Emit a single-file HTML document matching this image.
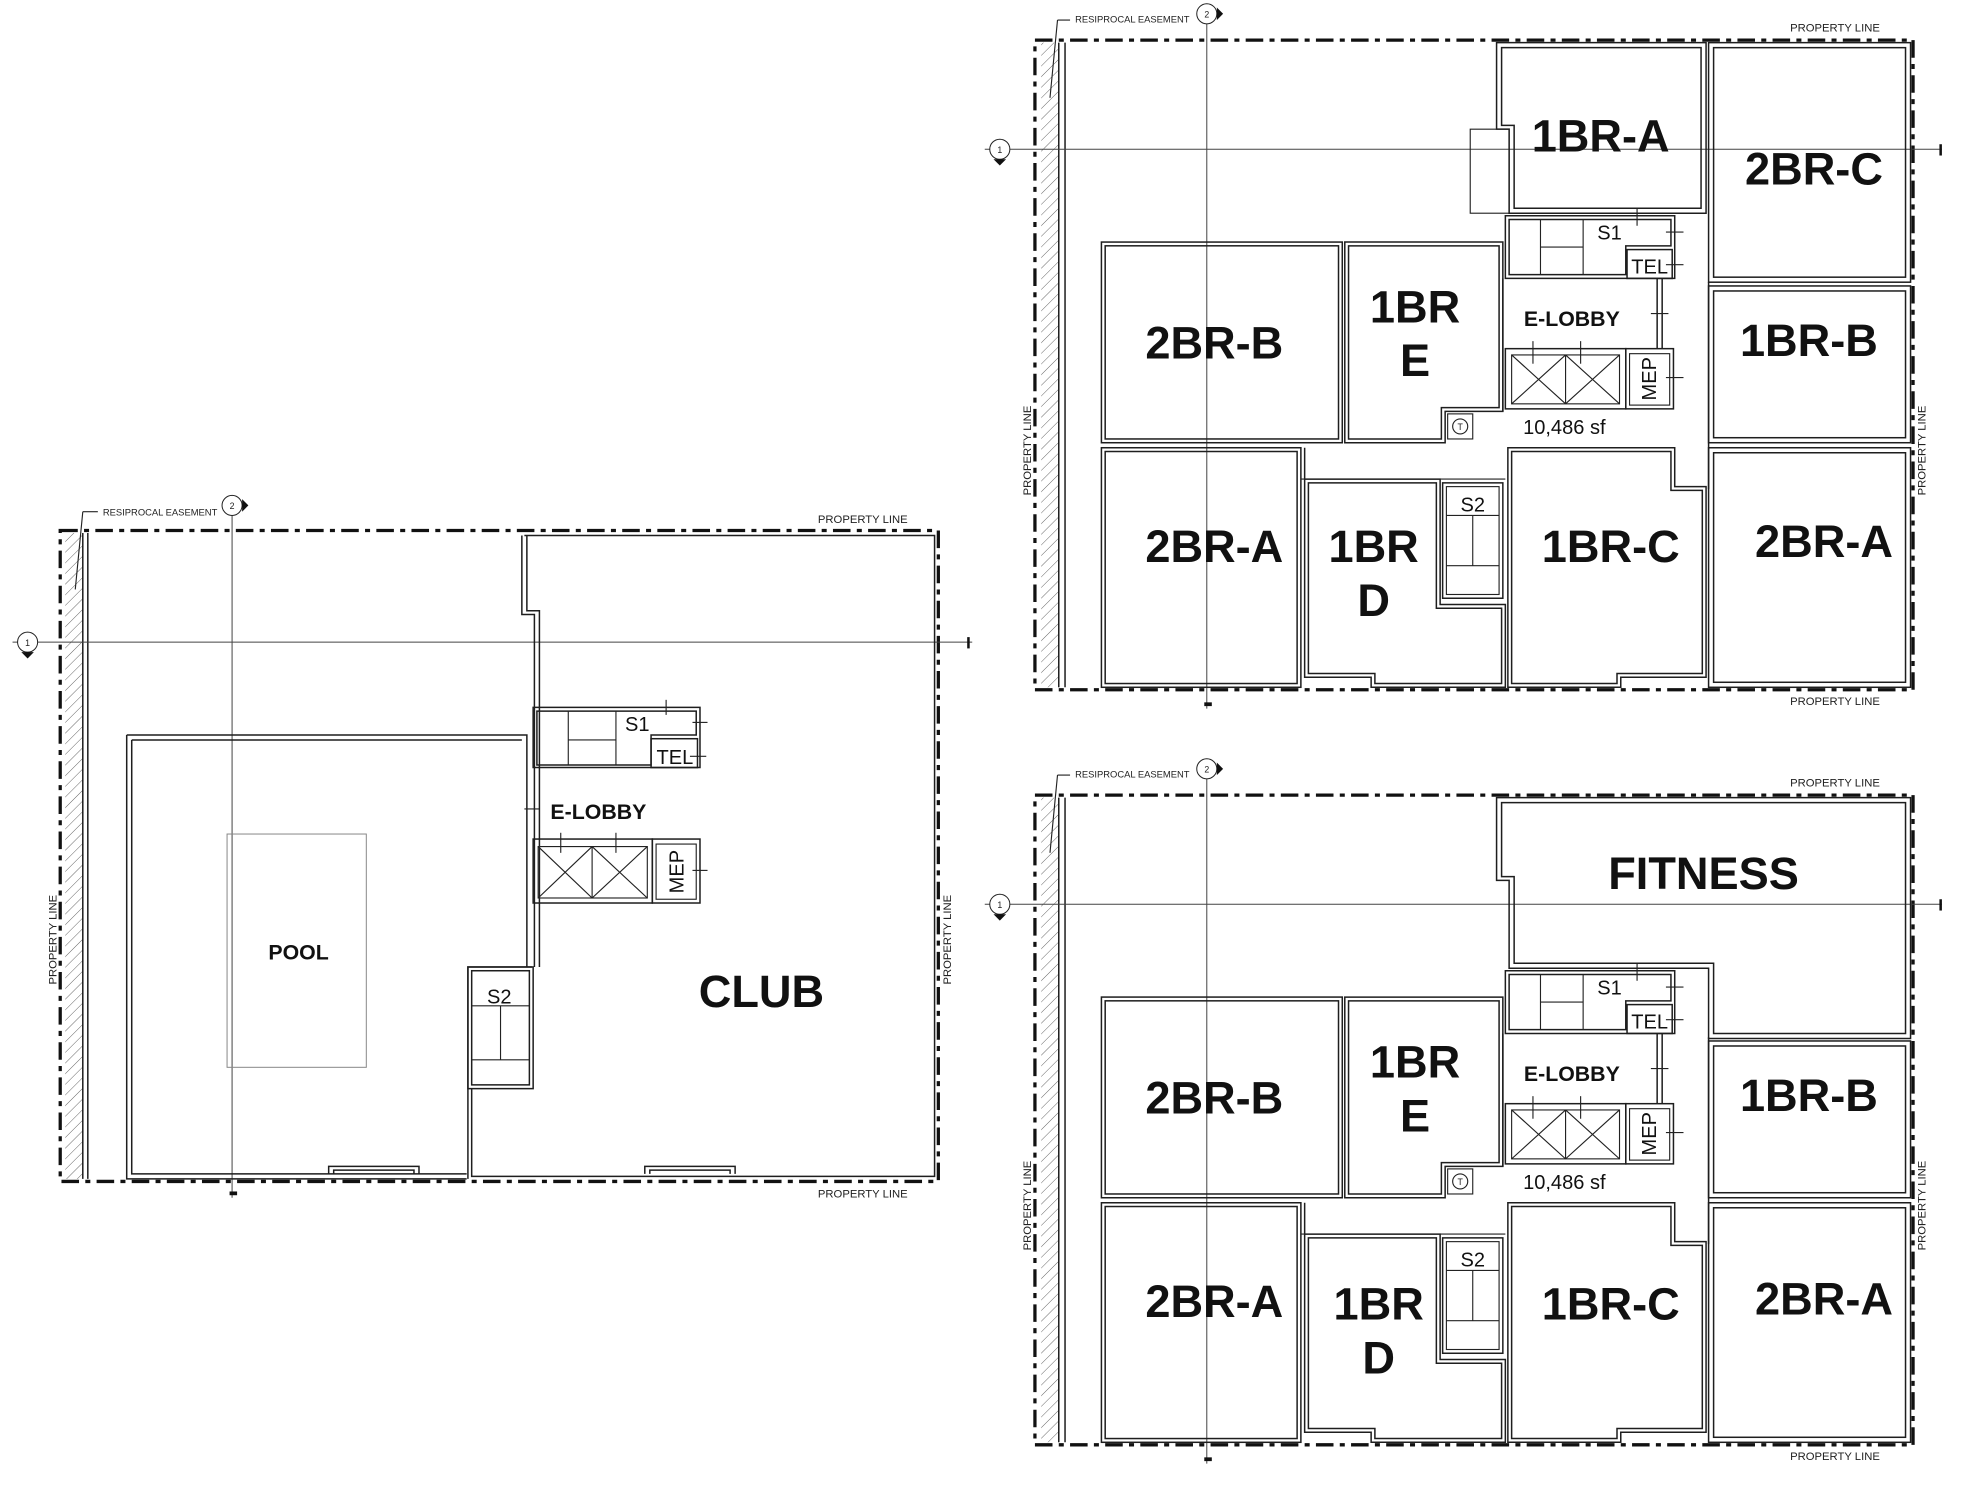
<!DOCTYPE html>
<html><head><meta charset="utf-8">
<style>
html,body{margin:0;padding:0;background:#fff;}
svg{display:block;}
.w{fill:none;stroke:#1e1e1e;stroke-width:1.2;}
.t{fill:none;stroke:#222;stroke-width:0.9;}
.g{fill:none;stroke:#444;stroke-width:0.8;}
.pl{fill:none;stroke:#111;stroke-width:2.6;stroke-dasharray:14 5 4 5;}
.big{font-family:"Liberation Sans",sans-serif;font-weight:bold;font-size:36px;fill:#111;text-anchor:middle;}
.med{font-family:"Liberation Sans",sans-serif;font-weight:bold;font-size:17px;fill:#111;text-anchor:middle;}
.sm{font-family:"Liberation Sans",sans-serif;font-size:16px;fill:#111;text-anchor:middle;}
.tiny{font-family:"Liberation Sans",sans-serif;font-size:9px;fill:#222;}
.bub{font-family:"Liberation Sans",sans-serif;font-size:7px;fill:#222;text-anchor:middle;}
</style></head><body>
<svg width="1967" height="1500" viewBox="0 0 1568 1196" preserveAspectRatio="none" xmlns="http://www.w3.org/2000/svg">
<defs>
<pattern id="h" width="6" height="6" patternUnits="userSpaceOnUse" patternTransform="rotate(45)">
<line x1="0" y1="0" x2="0" y2="6" stroke="#555" stroke-width="0.7"/>
</pattern>
</defs>
<rect width="1568" height="1196" fill="#fff"/>

<!-- ================= LEFT PLAN ================= -->
<g>
<rect x="52" y="425" width="14" height="515" fill="url(#h)"/>
<rect x="48" y="423" width="700" height="519" class="pl"/>
<line x1="66" y1="425" x2="66" y2="940" class="w"/>
<line x1="70" y1="425" x2="70" y2="940" class="w"/>
<line x1="185" y1="395" x2="185" y2="955" class="g"/>
<line x1="10" y1="512" x2="775" y2="512" class="g"/>
<rect x="183" y="950" width="6" height="3" fill="#111"/>
<rect x="771" y="508" width="2" height="9" fill="#111"/>
<circle cx="185" cy="403" r="8" fill="#fff" stroke="#222" stroke-width="0.8"/><path d="M193 398 L198 403 L193 408Z" fill="#111"/><text x="185" y="406" class="bub">2</text>
<circle cx="22" cy="512" r="8" fill="#fff" stroke="#222" stroke-width="0.8"/><path d="M17 520 L22 525 L27 520Z" fill="#111"/><text x="22" y="515" class="bub">1</text>
<path d="M66 408 H78" class="t"/><path d="M66 408 L60 470" class="t"/>
<text x="82" y="411" class="tiny" style="font-size:7.5px">RESIPROCAL  EASEMENT</text>
<text x="652" y="417" class="tiny">PROPERTY LINE</text>
<text x="652" y="955" class="tiny">PROPERTY LINE</text>
<text class="tiny" transform="translate(45,785) rotate(-90)">PROPERTY LINE</text>
<text class="tiny" transform="translate(758,785) rotate(-90)">PROPERTY LINE</text>
<path d="M416 427 V490 H426 V771" class="w"/><path d="M420 427 V487 H430 V771" class="w"/>
<path d="M418 427 H745 V938 H376 V868" class="w"/>
<path d="M373 940 V771 H424" class="w"/>
<path d="M101 586 H420 V771 M101 586 V940 H372" class="w"/>
<path d="M105 590 H416 M105 590 V936 H372" class="w"/>
<rect x="181" y="665" width="111" height="186" fill="none" stroke="#888" stroke-width="0.8"/>
<text x="238" y="765" class="med">POOL</text>
<text x="607" y="803" class="big">CLUB</text>
<path d="M262 936 V930 H334 V936" class="w"/><path d="M266 936 V933 H330 V936" class="w"/>
<path d="M514 936 V930 H586 V936" class="w"/><path d="M518 936 V933 H582 V936" class="w"/>
<rect x="373" y="771" width="52" height="97" class="w"/><rect x="376" y="774" width="46" height="91" class="w"/>
<line x1="376" y1="802" x2="422" y2="802" class="t"/><line x1="376" y1="845" x2="422" y2="845" class="t"/><line x1="399" y1="802" x2="399" y2="845" class="t"/>
<text x="398" y="800" class="sm">S2</text>
<path d="M425 564 H558 V612 H425Z" class="w"/><path d="M428 567 H555 V586 H519 V610 H428Z" class="w"/>
<line x1="453" y1="567" x2="453" y2="610" class="t"/><line x1="491" y1="567" x2="491" y2="610" class="t"/><line x1="453" y1="590" x2="491" y2="590" class="t"/>
<rect x="519" y="589" width="37" height="23" class="w"/>
<text x="508" y="583" class="sm">S1</text><text x="538" y="609" class="sm">TEL</text>
<line x1="531" y1="558" x2="531" y2="570" class="t"/><line x1="552" y1="576" x2="564" y2="576" class="t"/><line x1="550" y1="603" x2="563" y2="603" class="t"/>
<line x1="418" y1="645" x2="430" y2="645" class="t"/>
<text x="477" y="653" class="med">E-LOBBY</text>
<rect x="425" y="669" width="95" height="51" class="w"/><rect x="429" y="675" width="87" height="41" class="t"/>
<line x1="472" y1="675" x2="472" y2="716" class="t"/>
<path d="M429 675 L472 716 M472 675 L429 716 M472 675 L516 716 M516 675 L472 716" class="t"/>
<line x1="447" y1="664" x2="447" y2="680" class="t"/><line x1="491" y1="664" x2="491" y2="680" class="t"/>
<rect x="520" y="669" width="38" height="51" class="w"/><rect x="523" y="673" width="32" height="44" class="t"/>
<text class="sm" transform="translate(545,695) rotate(-90)">MEP</text>
<line x1="552" y1="694" x2="564" y2="694" class="t"/>
</g>

<!-- ================= TOP RIGHT PLAN ================= -->
<g>
<rect x="830" y="34" width="14" height="514" fill="url(#h)"/>
<rect x="825" y="32" width="700" height="518" class="pl"/>
<line x1="844" y1="34" x2="844" y2="548" class="w"/><line x1="849" y1="34" x2="849" y2="548" class="w"/>
<line x1="962" y1="5" x2="962" y2="565" class="g"/>
<line x1="785" y1="119" x2="1548" y2="119" class="g"/>
<rect x="960" y="560" width="6" height="3" fill="#111"/><rect x="1546" y="115" width="2" height="9" fill="#111"/>
<circle cx="962" cy="11" r="8" fill="#fff" stroke="#222" stroke-width="0.8"/><path d="M970 6 L975 11 L970 16Z" fill="#111"/><text x="962" y="14" class="bub">2</text>
<circle cx="797" cy="119" r="8" fill="#fff" stroke="#222" stroke-width="0.8"/><path d="M792 127 L797 132 L802 127Z" fill="#111"/><text x="797" y="122" class="bub">1</text>
<path d="M843 16 H853" class="t"/><path d="M843 16 L837 78" class="t"/>
<text x="857" y="18" class="tiny" style="font-size:7.5px">RESIPROCAL  EASEMENT</text>
<text x="1427" y="25" class="tiny">PROPERTY LINE</text>
<text x="1427" y="562" class="tiny">PROPERTY LINE</text>
<text class="tiny" transform="translate(822,395) rotate(-90)">PROPERTY LINE</text>
<text class="tiny" transform="translate(1535,395) rotate(-90)">PROPERTY LINE</text>
<path d="M1193 34 H1360 V170 H1203 V103 H1193Z" class="w"/><path d="M1197 38 H1356 V166 H1207 V100 H1197Z" class="w"/>
<rect x="1172" y="103" width="31" height="67" class="t"/>
<text x="1276" y="121" class="big">1BR-A</text>
<rect x="1362" y="34" width="161" height="191" class="w"/><rect x="1366" y="38" width="153" height="183" class="w"/>
<text x="1446" y="147" class="big">2BR-C</text>
<rect x="1362" y="228" width="161" height="125" class="w"/><rect x="1366" y="232" width="153" height="117" class="w"/>
<text x="1442" y="284" class="big">1BR-B</text>
<rect x="878" y="193" width="192" height="160" class="w"/><rect x="881" y="196" width="186" height="154" class="w"/>
<text x="968" y="286" class="big">2BR-B</text>
<path d="M1072 193 H1198 V328 H1152 V353 H1072Z" class="w"/><path d="M1075 196 H1195 V325 H1149 V350 H1075Z" class="w"/>
<text x="1128" y="257" class="big">1BR</text><text x="1128" y="300" class="big">E</text>
<rect x="1154" y="330" width="20" height="20" class="t"/><circle cx="1164" cy="340" r="6" class="t"/><text x="1164" y="343" class="bub">T</text>
<path d="M1200 172 H1335 V222 H1200Z" class="w"/><path d="M1203 175 H1332 V196 H1296 V219 H1203Z" class="w"/>
<line x1="1228" y1="175" x2="1228" y2="219" class="t"/><line x1="1262" y1="175" x2="1262" y2="219" class="t"/><line x1="1228" y1="197" x2="1262" y2="197" class="t"/>
<rect x="1297" y="199" width="36" height="23" class="w"/>
<text x="1283" y="191" class="sm">S1</text><text x="1315" y="218" class="sm">TEL</text>
<line x1="1305" y1="166" x2="1305" y2="180" class="t"/><line x1="1328" y1="185" x2="1342" y2="185" class="t"/><line x1="1328" y1="211" x2="1342" y2="211" class="t"/>
<line x1="1321" y1="222" x2="1321" y2="278" class="w"/><line x1="1325" y1="222" x2="1325" y2="278" class="w"/><line x1="1316" y1="250" x2="1330" y2="250" class="t"/>
<line x1="1198" y1="222" x2="1198" y2="328" class="w"/>
<text x="1253" y="260" class="med">E-LOBBY</text>
<rect x="1200" y="278" width="96" height="48" class="w"/><rect x="1205" y="283" width="86" height="39" class="t"/>
<line x1="1248" y1="283" x2="1248" y2="322" class="t"/>
<path d="M1205 283 L1248 322 M1248 283 L1205 322 M1248 283 L1291 322 M1291 283 L1248 322" class="t"/>
<line x1="1222" y1="272" x2="1222" y2="290" class="t"/><line x1="1260" y1="272" x2="1260" y2="290" class="t"/>
<rect x="1296" y="278" width="38" height="48" class="w"/><rect x="1299" y="282" width="32" height="41" class="t"/>
<text class="sm" transform="translate(1320,302) rotate(-90)">MEP</text>
<line x1="1328" y1="301" x2="1342" y2="301" class="t"/>
<text x="1247" y="346" class="sm">10,486 sf</text>
<line x1="1362" y1="225" x2="1362" y2="390" class="w"/>
<rect x="878" y="357" width="159" height="191" class="w"/><rect x="881" y="360" width="153" height="185" class="w"/>
<text x="968" y="448" class="big">2BR-A</text>
<path d="M1040 382 H1148 V482 H1200 V548 H1093 V540 H1040Z" class="w"/><path d="M1043 385 H1145 V485 H1197 V545 H1096 V537 H1043Z" class="w"/>
<line x1="1040" y1="382" x2="1040" y2="357" class="w"/><line x1="1037" y1="382" x2="1200" y2="382" class="t"/>
<text x="1095" y="448" class="big">1BR</text><text x="1095" y="491" class="big">D</text>
<rect x="1150" y="385" width="48" height="92" class="w"/><rect x="1153" y="388" width="42" height="86" class="t"/>
<line x1="1153" y1="411" x2="1195" y2="411" class="t"/><line x1="1153" y1="451" x2="1195" y2="451" class="t"/><line x1="1174" y1="411" x2="1174" y2="451" class="t"/>
<text x="1174" y="408" class="sm">S2</text>
<path d="M1202 357 H1335 V388 H1360 V540 H1292 V548 H1202Z" class="w"/><path d="M1205 360 H1332 V391 H1357 V537 H1289 V545 H1205Z" class="w"/>
<text x="1284" y="448" class="big">1BR-C</text>
<rect x="1362" y="357" width="161" height="191" class="w"/><rect x="1366" y="361" width="153" height="183" class="w"/>
<text x="1454" y="444" class="big">2BR-A</text>
</g>

<!-- ================= BOTTOM RIGHT PLAN ================= -->
<g transform="translate(0,602)">
<rect x="830" y="34" width="14" height="514" fill="url(#h)"/>
<rect x="825" y="32" width="700" height="518" class="pl"/>
<line x1="844" y1="34" x2="844" y2="548" class="w"/><line x1="849" y1="34" x2="849" y2="548" class="w"/>
<line x1="962" y1="5" x2="962" y2="565" class="g"/>
<line x1="785" y1="119" x2="1548" y2="119" class="g"/>
<rect x="960" y="560" width="6" height="3" fill="#111"/><rect x="1546" y="115" width="2" height="9" fill="#111"/>
<circle cx="962" cy="11" r="8" fill="#fff" stroke="#222" stroke-width="0.8"/><path d="M970 6 L975 11 L970 16Z" fill="#111"/><text x="962" y="14" class="bub">2</text>
<circle cx="797" cy="119" r="8" fill="#fff" stroke="#222" stroke-width="0.8"/><path d="M792 127 L797 132 L802 127Z" fill="#111"/><text x="797" y="122" class="bub">1</text>
<path d="M843 16 H853" class="t"/><path d="M843 16 L837 78" class="t"/>
<text x="857" y="18" class="tiny" style="font-size:7.5px">RESIPROCAL  EASEMENT</text>
<text x="1427" y="25" class="tiny">PROPERTY LINE</text>
<text x="1427" y="562" class="tiny">PROPERTY LINE</text>
<text class="tiny" transform="translate(822,395) rotate(-90)">PROPERTY LINE</text>
<text class="tiny" transform="translate(1535,395) rotate(-90)">PROPERTY LINE</text>
<path d="M1193 34 H1523 V226 H1362 V170 H1203 V100 H1193Z" class="w"/><path d="M1197 38 H1519 V222 H1366 V166 H1207 V97 H1197Z" class="w"/>
<text x="1358" y="107" class="big">FITNESS</text>
<rect x="1362" y="228" width="161" height="125" class="w"/><rect x="1366" y="232" width="153" height="117" class="w"/>
<text x="1442" y="284" class="big">1BR-B</text>
<rect x="878" y="193" width="192" height="160" class="w"/><rect x="881" y="196" width="186" height="154" class="w"/>
<text x="968" y="286" class="big">2BR-B</text>
<path d="M1072 193 H1198 V328 H1152 V353 H1072Z" class="w"/><path d="M1075 196 H1195 V325 H1149 V350 H1075Z" class="w"/>
<text x="1128" y="257" class="big">1BR</text><text x="1128" y="300" class="big">E</text>
<rect x="1154" y="330" width="20" height="20" class="t"/><circle cx="1164" cy="340" r="6" class="t"/><text x="1164" y="343" class="bub">T</text>
<path d="M1200 172 H1335 V222 H1200Z" class="w"/><path d="M1203 175 H1332 V196 H1296 V219 H1203Z" class="w"/>
<line x1="1228" y1="175" x2="1228" y2="219" class="t"/><line x1="1262" y1="175" x2="1262" y2="219" class="t"/><line x1="1228" y1="197" x2="1262" y2="197" class="t"/>
<rect x="1297" y="199" width="36" height="23" class="w"/>
<text x="1283" y="191" class="sm">S1</text><text x="1315" y="218" class="sm">TEL</text>
<line x1="1305" y1="166" x2="1305" y2="180" class="t"/><line x1="1328" y1="185" x2="1342" y2="185" class="t"/><line x1="1328" y1="211" x2="1342" y2="211" class="t"/>
<line x1="1321" y1="222" x2="1321" y2="278" class="w"/><line x1="1325" y1="222" x2="1325" y2="278" class="w"/><line x1="1316" y1="250" x2="1330" y2="250" class="t"/>
<line x1="1198" y1="222" x2="1198" y2="328" class="w"/>
<text x="1253" y="260" class="med">E-LOBBY</text>
<rect x="1200" y="278" width="96" height="48" class="w"/><rect x="1205" y="283" width="86" height="39" class="t"/>
<line x1="1248" y1="283" x2="1248" y2="322" class="t"/>
<path d="M1205 283 L1248 322 M1248 283 L1205 322 M1248 283 L1291 322 M1291 283 L1248 322" class="t"/>
<line x1="1222" y1="272" x2="1222" y2="290" class="t"/><line x1="1260" y1="272" x2="1260" y2="290" class="t"/>
<rect x="1296" y="278" width="38" height="48" class="w"/><rect x="1299" y="282" width="32" height="41" class="t"/>
<text class="sm" transform="translate(1320,302) rotate(-90)">MEP</text>
<line x1="1328" y1="301" x2="1342" y2="301" class="t"/>
<text x="1247" y="346" class="sm">10,486 sf</text>
<line x1="1362" y1="225" x2="1362" y2="390" class="w"/>
<rect x="878" y="357" width="159" height="191" class="w"/><rect x="881" y="360" width="153" height="185" class="w"/>
<text x="968" y="448" class="big">2BR-A</text>
<path d="M1040 382 H1148 V482 H1200 V548 H1093 V540 H1040Z" class="w"/><path d="M1043 385 H1145 V485 H1197 V545 H1096 V537 H1043Z" class="w"/>
<line x1="1040" y1="382" x2="1040" y2="357" class="w"/><line x1="1037" y1="382" x2="1200" y2="382" class="t"/>
<text x="1099" y="450" class="big">1BR</text><text x="1099" y="493" class="big">D</text>
<rect x="1150" y="385" width="48" height="92" class="w"/><rect x="1153" y="388" width="42" height="86" class="t"/>
<line x1="1153" y1="411" x2="1195" y2="411" class="t"/><line x1="1153" y1="451" x2="1195" y2="451" class="t"/><line x1="1174" y1="411" x2="1174" y2="451" class="t"/>
<text x="1174" y="408" class="sm">S2</text>
<path d="M1202 357 H1335 V388 H1360 V540 H1292 V548 H1202Z" class="w"/><path d="M1205 360 H1332 V391 H1357 V537 H1289 V545 H1205Z" class="w"/>
<text x="1284" y="450" class="big">1BR-C</text>
<rect x="1362" y="357" width="161" height="191" class="w"/><rect x="1366" y="361" width="153" height="183" class="w"/>
<text x="1454" y="446" class="big">2BR-A</text>
</g>
</svg>
</body></html>
